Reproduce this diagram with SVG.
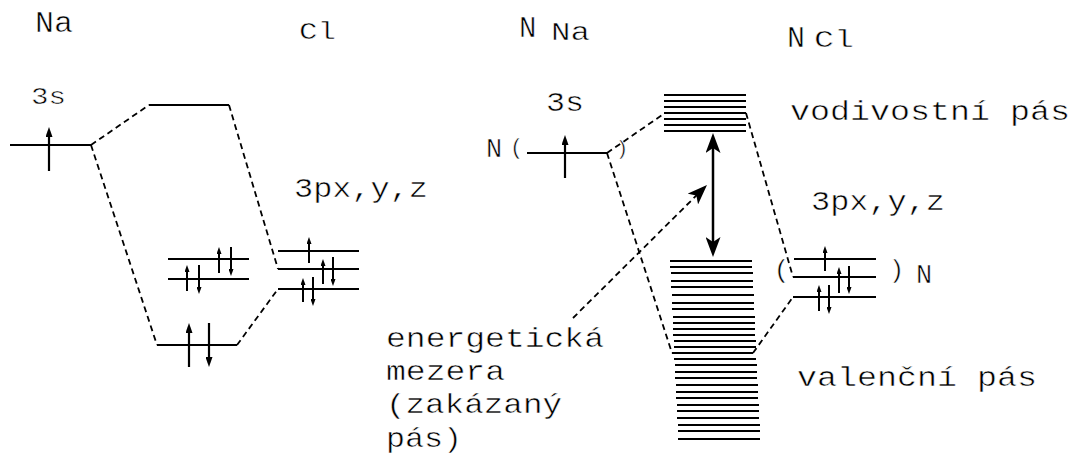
<svg xmlns="http://www.w3.org/2000/svg" width="1072" height="457" viewBox="0 0 1072 457">
  <style>
    .lvl { stroke: #000; stroke-width: 2; fill: none; }
    .dash { stroke: #000; stroke-width: 1.8; stroke-dasharray: 6 4; fill: none; }
    .e { stroke: #000; stroke-width: 2; fill: none; marker-end: url(#ahS); }
    .eb { stroke: #000; stroke-width: 2.2; fill: none; marker-end: url(#ahB); }
    /* thin white outline lightens the mono glyphs */
    .t { font-family: "Liberation Mono", "DejaVu Sans Mono", monospace; fill: #000; stroke: #fff; stroke-width: 0.5; }
  </style>
  <defs>
    <marker id="ahS" markerUnits="userSpaceOnUse" markerWidth="7" markerHeight="5" refX="4" refY="2.5" orient="auto">
      <path d="M0,0L7,2.5L0,5z" fill="#000"/>
    </marker>
    <marker id="ahB" markerUnits="userSpaceOnUse" markerWidth="10" markerHeight="7" refX="6" refY="3.5" orient="auto">
      <path d="M0,0L10,3.5L0,7z" fill="#000"/>
    </marker>
    <marker id="ahN" markerUnits="userSpaceOnUse" markerWidth="20" markerHeight="15" refX="12" refY="7.5" orient="auto-start-reverse">
      <path d="M0,0L20,7.5L0,15L5,7.5z" fill="#000"/>
    </marker>
  </defs>

  <rect width="1072" height="457" fill="#fff"/>

  <!-- single NaCl pair: atomic and molecular levels -->
  <g id="na-3s">
    <line class="lvl" x1="10" y1="145" x2="91" y2="145"/>
    <line class="eb" x1="49" y1="171" x2="49" y2="131"/>
    <text class="t" x="35" y="32" font-size="29" textLength="38" lengthAdjust="spacingAndGlyphs">Na</text>
    <text class="t" x="31" y="104" font-size="23" textLength="35" lengthAdjust="spacingAndGlyphs">3s</text>
  </g>
  <g id="antibonding">
    <line class="lvl" x1="149" y1="105" x2="229" y2="105"/>
  </g>
  <g id="nonbonding">
    <line class="lvl" x1="168" y1="259" x2="249" y2="259"/>
    <line class="lvl" x1="168" y1="279" x2="249" y2="279"/>
    <line class="e" x1="219" y1="273" x2="219" y2="250"/>
    <line class="e" x1="231" y1="247" x2="231" y2="273"/>
    <line class="e" x1="187" y1="291" x2="187" y2="268"/>
    <line class="e" x1="199" y1="265" x2="199" y2="291"/>
  </g>
  <g id="bonding">
    <line class="lvl" x1="157" y1="345" x2="237" y2="345"/>
    <line class="eb" x1="189" y1="367" x2="189" y2="327"/>
    <line class="eb" x1="209" y1="323" x2="209" y2="363"/>
  </g>
  <g id="cl-3p">
    <line class="lvl" x1="278" y1="251" x2="359" y2="251"/>
    <line class="lvl" x1="278" y1="269" x2="359" y2="269"/>
    <line class="lvl" x1="278" y1="289" x2="359" y2="289"/>
    <line class="e" x1="309" y1="263" x2="309" y2="240"/>
    <line class="e" x1="323" y1="284" x2="323" y2="262"/>
    <line class="e" x1="333" y1="257" x2="333" y2="283"/>
    <line class="e" x1="303" y1="302" x2="303" y2="281"/>
    <line class="e" x1="313" y1="277" x2="313" y2="303"/>
    <text class="t" x="299" y="39" font-size="24" textLength="37" lengthAdjust="spacingAndGlyphs">Cl</text>
    <text class="t" x="294" y="197" font-size="28" textLength="134" lengthAdjust="spacingAndGlyphs">3px,y,z</text>
  </g>

  <!-- crystal of N ion pairs: bands -->
  <g id="nna-3s">
    <line class="lvl" x1="527" y1="153" x2="607" y2="153"/>
    <line class="eb" x1="565" y1="178" x2="565" y2="139"/>
    <text class="t" x="519" y="37" font-size="29">N</text>
    <text class="t" x="551" y="40" font-size="26" textLength="39" lengthAdjust="spacingAndGlyphs">Na</text>
    <text class="t" x="546" y="111" font-size="27" textLength="38" lengthAdjust="spacingAndGlyphs">3s</text>
    <text class="t" x="486" y="157" font-size="27">N</text>
    <text class="t" x="516.5" y="154" font-size="22" text-anchor="middle">(</text>
    <text class="t" x="622" y="154.5" font-size="21" text-anchor="middle">)</text>
  </g>
  <g id="conduction-band">
    <line class="lvl" x1="664" y1="95" x2="746" y2="95"/>
    <line class="lvl" x1="664" y1="101" x2="746" y2="101"/>
    <line class="lvl" x1="664" y1="107" x2="746" y2="107"/>
    <line class="lvl" x1="664" y1="113" x2="746" y2="113"/>
    <line class="lvl" x1="664" y1="119" x2="746" y2="119"/>
    <line class="lvl" x1="664" y1="125" x2="746" y2="125"/>
    <line class="lvl" x1="664" y1="131" x2="746" y2="131"/>
    <text class="t" x="790" y="120" font-size="27" textLength="280" lengthAdjust="spacingAndGlyphs">vodivostní pás</text>
  </g>
  <g id="valence-band">
    <line class="lvl" x1="670" y1="261" x2="752" y2="261"/>
    <line class="lvl" x1="670" y1="267" x2="752" y2="267"/>
    <line class="lvl" x1="671" y1="273" x2="753" y2="273"/>
    <line class="lvl" x1="671" y1="281" x2="753" y2="281"/>
    <line class="lvl" x1="671" y1="287" x2="753" y2="287"/>
    <line class="lvl" x1="672" y1="295" x2="754" y2="295"/>
    <line class="lvl" x1="672" y1="303" x2="754" y2="303"/>
    <line class="lvl" x1="672" y1="309" x2="754" y2="309"/>
    <line class="lvl" x1="673" y1="317" x2="755" y2="317"/>
    <line class="lvl" x1="673" y1="323" x2="755" y2="323"/>
    <line class="lvl" x1="673" y1="329" x2="755" y2="329"/>
    <line class="lvl" x1="673" y1="335" x2="755" y2="335"/>
    <line class="lvl" x1="674" y1="341" x2="756" y2="341"/>
    <line class="lvl" x1="674" y1="347" x2="756" y2="347"/>
    <line class="lvl" x1="672" y1="353" x2="753" y2="353"/>
    <line class="lvl" x1="674" y1="359" x2="756" y2="359"/>
    <line class="lvl" x1="675" y1="365" x2="757" y2="365"/>
    <line class="lvl" x1="675" y1="372" x2="757" y2="372"/>
    <line class="lvl" x1="675" y1="378" x2="757" y2="378"/>
    <line class="lvl" x1="676" y1="385" x2="758" y2="385"/>
    <line class="lvl" x1="676" y1="392" x2="758" y2="392"/>
    <line class="lvl" x1="676" y1="398" x2="758" y2="398"/>
    <line class="lvl" x1="677" y1="405" x2="759" y2="405"/>
    <line class="lvl" x1="677" y1="411" x2="759" y2="411"/>
    <line class="lvl" x1="677" y1="418" x2="759" y2="418"/>
    <line class="lvl" x1="678" y1="425" x2="760" y2="425"/>
    <line class="lvl" x1="678" y1="431" x2="760" y2="431"/>
    <line class="lvl" x1="678" y1="439" x2="760" y2="439"/>
    <text class="t" x="797" y="386" font-size="27" textLength="240" lengthAdjust="spacingAndGlyphs">valenční pás</text>
  </g>
  <g id="ncl-3p">
    <line class="lvl" x1="794" y1="259" x2="876" y2="259"/>
    <line class="lvl" x1="793" y1="277" x2="876" y2="277"/>
    <line class="lvl" x1="793" y1="297" x2="876" y2="297"/>
    <line class="e" x1="825" y1="271" x2="825" y2="249"/>
    <line class="e" x1="839" y1="293" x2="839" y2="270"/>
    <line class="e" x1="849" y1="266" x2="849" y2="291"/>
    <line class="e" x1="819" y1="311" x2="819" y2="288"/>
    <line class="e" x1="829" y1="285" x2="829" y2="311"/>
    <text class="t" x="787" y="47" font-size="30">N</text>
    <text class="t" x="814" y="47" font-size="24" textLength="40" lengthAdjust="spacingAndGlyphs">Cl</text>
    <text class="t" x="811" y="210" font-size="28" textLength="134" lengthAdjust="spacingAndGlyphs">3px,y,z</text>
    <text class="t" x="781.5" y="278" font-size="26" text-anchor="middle">(</text>
    <text class="t" x="896.5" y="278" font-size="26" text-anchor="middle">)</text>
    <text class="t" x="916" y="283" font-size="27">N</text>
  </g>
  <g id="gap-label">
    <text class="t" x="386" y="347" font-size="28" textLength="218" lengthAdjust="spacingAndGlyphs">energetická</text>
    <text class="t" x="386" y="380" font-size="28" textLength="119" lengthAdjust="spacingAndGlyphs">mezera</text>
    <text class="t" x="386" y="413" font-size="28" textLength="176" lengthAdjust="spacingAndGlyphs">(zakázaný</text>
    <text class="t" x="386" y="447" font-size="28" textLength="76" lengthAdjust="spacingAndGlyphs">pás)</text>
  </g>

  <!-- correlation lines and the band-gap arrows -->
  <g id="connectors">
    <line class="dash" x1="91" y1="145" x2="149" y2="105"/>
    <line class="dash" x1="229" y1="105" x2="278" y2="269"/>
    <line class="dash" x1="91" y1="145" x2="157" y2="345"/>
    <line class="dash" x1="237" y1="345" x2="278" y2="289"/>
    <line class="dash" x1="607" y1="153" x2="665" y2="113"/>
    <line class="dash" x1="746" y1="113" x2="793" y2="277"/>
    <line class="dash" x1="607" y1="153" x2="672" y2="353"/>
    <line class="dash" x1="753" y1="353" x2="793" y2="297"/>
    <line x1="713" y1="141" x2="713" y2="249" stroke="#000" stroke-width="2.5" marker-start="url(#ahN)" marker-end="url(#ahN)"/>
    <line class="dash" x1="573" y1="318" x2="701.3" y2="190.6" marker-end="url(#ahN)"/>
  </g>
</svg>
